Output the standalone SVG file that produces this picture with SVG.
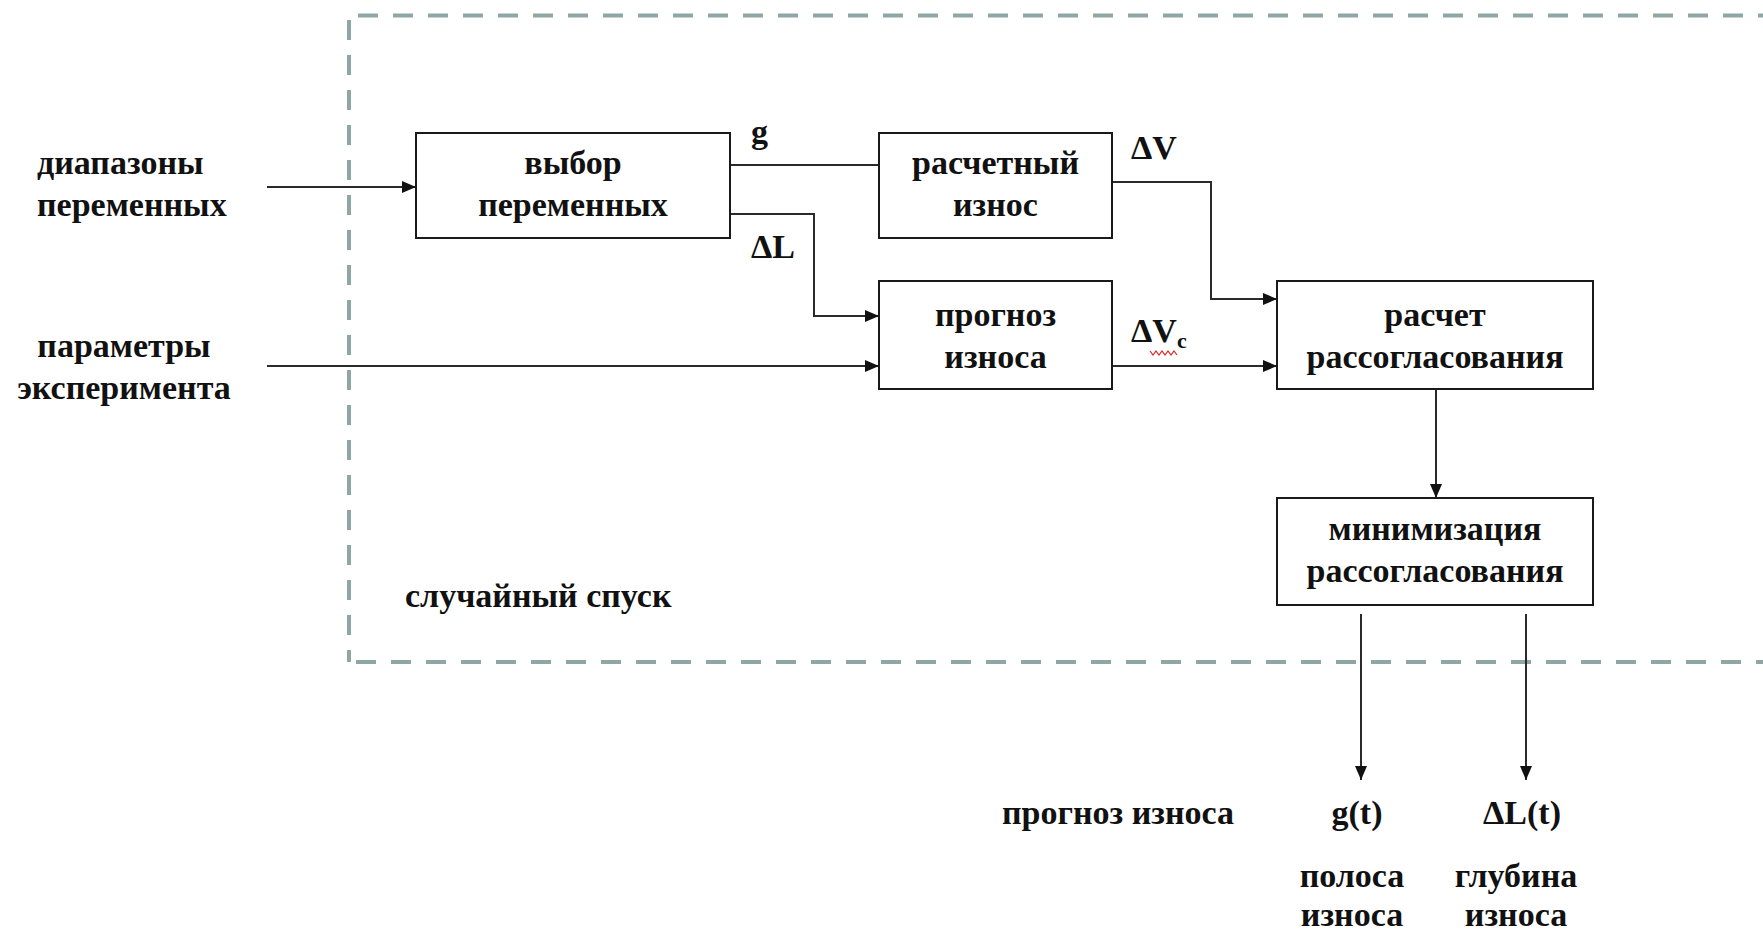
<svg xmlns="http://www.w3.org/2000/svg" width="1763" height="934" viewBox="0 0 1763 934">
<style>
text{font-family:"Liberation Serif","Times New Roman",serif;font-weight:bold;font-size:34px;fill:#111}
.c{text-anchor:middle}
.box{fill:#fff;stroke:#1a1a1a;stroke-width:2}
.ln{fill:none;stroke:#2a2a2a;stroke-width:2}
.dash{fill:none;stroke:#8FA6A7;stroke-width:4;stroke-dasharray:20 15}
</style>
<defs>
<marker id="ah" viewBox="0 0 14 12" refX="14" refY="6" markerWidth="14" markerHeight="12" markerUnits="userSpaceOnUse" orient="auto">
<path d="M0,0 L14,6 L0,12 Z" fill="#111"/>
</marker>
</defs>
<rect width="1763" height="934" fill="#fff"/>
<g id="frame">
<line class="dash" x1="358" y1="15.5" x2="1800" y2="15.5"/>
<line class="dash" x1="349" y1="20" x2="349" y2="662"/>
<line class="dash" x1="356" y1="662" x2="1800" y2="662"/>
<text x="405" y="607">случайный спуск</text>
</g>
<g id="connectors">
<line class="ln" x1="267" y1="187" x2="416" y2="187" marker-end="url(#ah)"/>
<line class="ln" x1="267" y1="366" x2="879" y2="366" marker-end="url(#ah)"/>
<line class="ln" x1="730" y1="165" x2="879" y2="165"/>
<polyline class="ln" points="730,214 814,214 814,316 879,316" marker-end="url(#ah)"/>
<polyline class="ln" points="1112,182 1211,182 1211,299 1277,299" marker-end="url(#ah)"/>
<line class="ln" x1="1112" y1="366" x2="1277" y2="366" marker-end="url(#ah)"/>
<line class="ln" x1="1436" y1="389" x2="1436" y2="498" marker-end="url(#ah)"/>
<line class="ln" x1="1361" y1="614" x2="1361" y2="780" marker-end="url(#ah)"/>
<line class="ln" x1="1526" y1="614" x2="1526" y2="780" marker-end="url(#ah)"/>
<text x="751" y="143">g</text>
<text x="751" y="258">ΔL</text>
<text x="1131" y="159">ΔV</text>
<text x="1131" y="342">ΔV<tspan font-size="22" dy="6">c</tspan></text>
<path d="M1150,351 l3,4 l3,-4 l3,4 l3,-4 l3,4 l3,-4 l3,4 l3,-4 l3,4" fill="none" stroke="#e02020" stroke-width="1.2"/>
</g>
<g id="in1">
<text x="37" y="174">диапазоны</text>
<text x="37" y="216">переменных</text>
</g>
<g id="in2">
<text class="c" x="124" y="357">параметры</text>
<text class="c" x="124" y="399">эксперимента</text>
</g>
<g id="n1">
<rect class="box" x="416" y="133" width="314" height="105"/>
<text class="c" x="573" y="174">выбор</text>
<text class="c" x="573" y="216">переменных</text>
</g>
<g id="n2">
<rect class="box" x="879" y="133" width="233" height="105"/>
<text class="c" x="995.5" y="174">расчетный</text>
<text class="c" x="995.5" y="216">износ</text>
</g>
<g id="n3">
<rect class="box" x="879" y="281" width="233" height="108"/>
<text class="c" x="995.5" y="326">прогноз</text>
<text class="c" x="995.5" y="368">износа</text>
</g>
<g id="n4">
<rect class="box" x="1277" y="281" width="316" height="108"/>
<text class="c" x="1435" y="326">расчет</text>
<text class="c" x="1435" y="368">рассогласования</text>
</g>
<g id="n5">
<rect class="box" x="1277" y="498" width="316" height="107"/>
<text class="c" x="1435" y="540">минимизация</text>
<text class="c" x="1435" y="582">рассогласования</text>
</g>
<g id="outputs">
<text x="1002" y="824">прогноз износа</text>
<text class="c" x="1357" y="824">g(t)</text>
<text class="c" x="1522" y="824">ΔL(t)</text>
<text class="c" x="1352" y="887">полоса</text>
<text class="c" x="1352" y="926">износа</text>
<text class="c" x="1516" y="887">глубина</text>
<text class="c" x="1516" y="926">износа</text>
</g>
</svg>
